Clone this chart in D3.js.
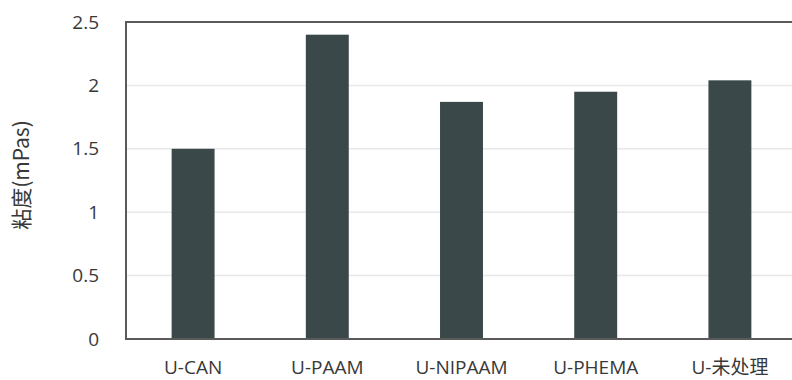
<!DOCTYPE html>
<html>
<head>
<meta charset="utf-8">
<script src="https://cdn.jsdelivr.net/npm/d3@7"></script>
<style>
  body { margin: 0; background: #fff; }
  text { font-family: "Open Sans", "Noto Sans CJK SC", sans-serif; fill: #383838; }
</style>
</head>
<body>
<div id="chart"></div>
<script>
// data
var categories = ["U-CAN", "U-PAAM", "U-NIPAAM", "U-PHEMA", "U-未处理"];
var viscosity = [1.5, 2.4, 1.87, 1.95, 2.04];
var yTicks = [0, 0.5, 1, 1.5, 2, 2.5];

var margin = {top: 22, right: -5, bottom: 41, left: 126},
    width = 792 - margin.left - margin.right,
    height = 380 - margin.top - margin.bottom;

var svg = d3.select("#chart")
  .append("svg")
  .attr("width", 792)
  .attr("height", 380);

var chartgroup = svg.append("g")
  .attr("transform", "translate(" + margin.left + "," + margin.top + ")");

var x = d3.scaleBand()
  .domain(categories)
  .range([0, width])
  .paddingInner(0.68)
  .paddingOuter(0.34);

var y = d3.scaleLinear()
  .domain([0, 2.5])
  .range([height, 0]);

// gridlines
chartgroup.selectAll(".grid")
  .data(yTicks.slice(1, -1))
  .enter()
  .append("line")
    .attr("x1", 0)
    .attr("x2", width)
    .attr("y1", d => y(d))
    .attr("y2", d => y(d))
    .style("stroke", "#e8e8e8")
    .style("stroke-width", 1.5);

// bars
chartgroup.selectAll("rect")
  .data(viscosity)
  .enter()
  .append("rect")
    .attr("x", (d, i) => x(categories[i]))
    .attr("y", d => y(d))
    .attr("width", x.bandwidth())
    .attr("height", d => height - y(d))
    .style("fill", "#3a4849");

// frame
chartgroup.append("rect")
  .attr("x", 0)
  .attr("y", 0)
  .attr("width", width)
  .attr("height", height)
  .style("fill", "none")
  .style("stroke", "#5a5a5a")
  .style("stroke-width", 2);

// y axis
var yAxis = chartgroup.append("g")
  .call(d3.axisLeft(y).tickValues(yTicks).tickFormat(d3.format("")).tickSize(0).tickPadding(27));
yAxis.select(".domain").remove();
yAxis.selectAll("text")
  .attr("font-size", "19px")
  .style("font-family", "Open Sans")
  .style("fill", "#383838");

// x axis
var xAxis = chartgroup.append("g")
  .attr("transform", "translate(0," + height + ")")
  .call(d3.axisBottom(x).tickSize(0).tickPadding(22));
xAxis.select(".domain").remove();
xAxis.selectAll("text")
  .attr("font-size", "19px")
  .style("font-family", "'Open Sans', 'Noto Sans CJK SC'")
  .style("fill", "#383838");

// y label
svg.append("text")
  .attr("transform", "rotate(-90)")
  .attr("x", -175)
  .attr("y", 29)
  .attr("text-anchor", "middle")
  .attr("font-size", "21px")
  .style("font-family", "'Noto Sans CJK SC', 'Open Sans'")
  .text("粘度(mPas)");
</script>
</body>
</html>
